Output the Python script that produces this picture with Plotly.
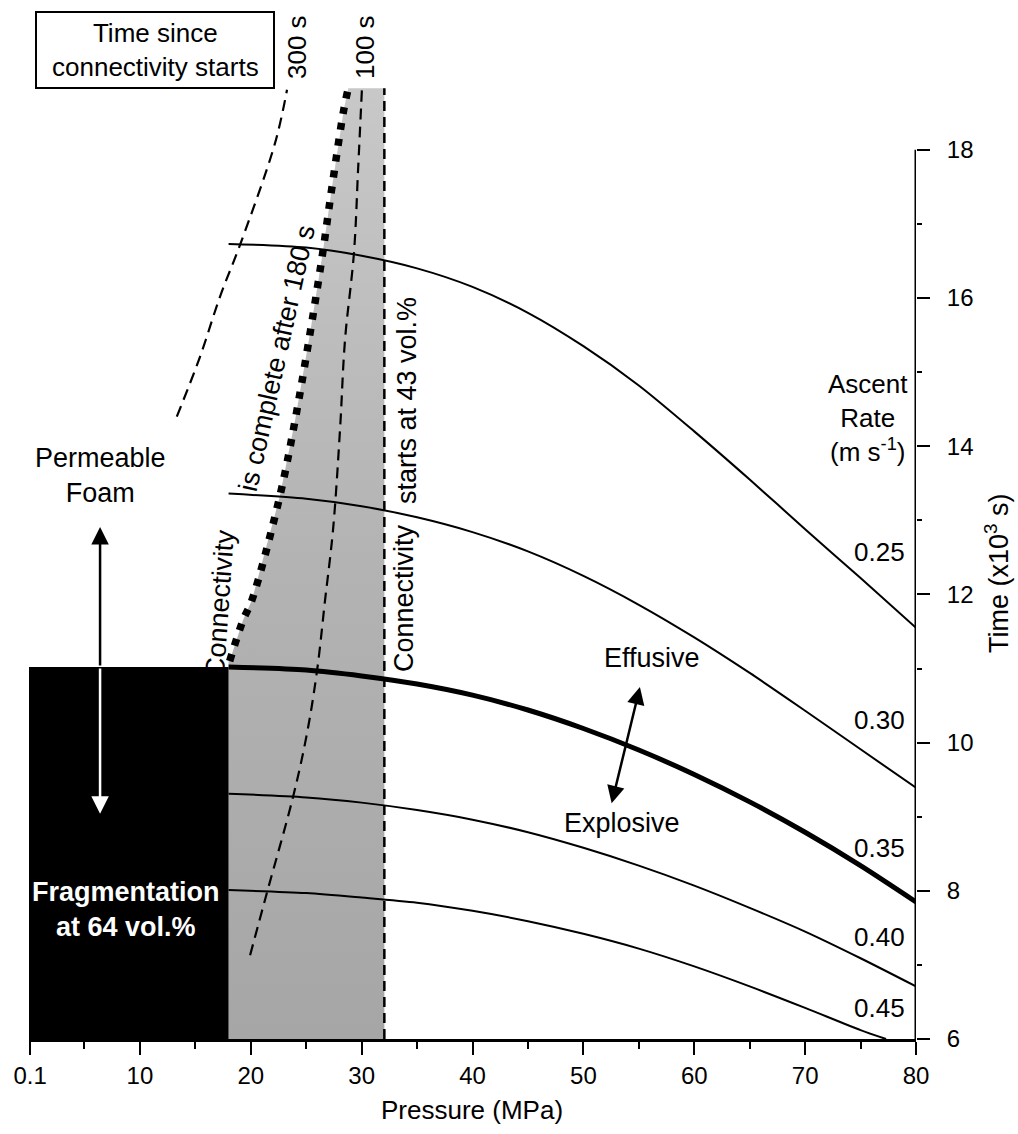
import plotly.graph_objects as go

# ---------------- data ----------------
pressure_ticks = [0.1, 10, 20, 30, 40, 50, 60, 70, 80]
pressure_tick_text = ["0.1", "10", "20", "30", "40", "50", "60", "70", "80"]
pressure_minor = [5, 15, 25, 35, 45, 55, 65, 75]
time_ticks = [6, 8, 10, 12, 14, 16, 18]
time_minor = [7, 9, 11, 13, 15, 17]

# ascent-rate curves: pressure (MPa) vs time (x10^3 s)
P_025 = [18, 25, 30, 35, 40, 45, 50, 55, 60, 65, 70, 75, 80]
t_025 = [16.73, 16.68, 16.57, 16.40, 16.15, 15.80, 15.35, 14.82, 14.20, 13.55, 12.88, 12.22, 11.55]
P_030 = [18, 25, 30, 35, 40, 45, 50, 55, 60, 65, 70, 75, 80]
t_030 = [13.36, 13.29, 13.19, 13.04, 12.84, 12.58, 12.25, 11.86, 11.42, 10.94, 10.43, 9.91, 9.39]
P_035 = [18, 25, 30, 35, 40, 45, 50, 55, 60, 65, 70, 75, 80]
t_035 = [11.02, 10.98, 10.90, 10.79, 10.64, 10.44, 10.19, 9.90, 9.57, 9.20, 8.79, 8.34, 7.85]
P_040 = [18, 25, 30, 35, 40, 45, 50, 55, 60, 65, 70, 75, 80]
t_040 = [9.31, 9.26, 9.19, 9.09, 8.96, 8.79, 8.58, 8.34, 8.07, 7.77, 7.45, 7.09, 6.71]
P_045 = [18, 25, 30, 35, 40, 45, 50, 55, 60, 65, 70, 75, 77.3]
t_045 = [8.01, 7.97, 7.91, 7.84, 7.73, 7.59, 7.42, 7.22, 6.98, 6.71, 6.42, 6.12, 6.0]
rate_labels = ["0.25", "0.30", "0.35", "0.40", "0.45"]

# fragmentation region (black)
frag_P = [0, 18]
frag_t = [6, 11.02]

# connectivity region
conn_start_P = 32.05
conn_top_t = 18.83
complete_P = [18.1, 19.3, 20.1, 22.6, 24.0, 25.4, 26.5, 27.3, 28.4, 28.8]
complete_t = [11.1, 11.65, 11.92, 13.31, 14.35, 15.57, 16.62, 17.47, 18.55, 18.83]

# time since connectivity starts
line100_P = [19.94, 21.47, 23.82, 25.08, 25.98, 26.70, 27.42, 28.05, 28.50, 29.31, 29.68, 30.03]
line100_t = [7.13, 7.98, 9.27, 10.13, 10.97, 11.92, 12.87, 14.22, 15.43, 16.61, 17.73, 18.83]
line300_P = [13.33, 15.43, 17.23, 19.04, 22.19, 23.27]
line300_t = [14.40, 15.21, 16.02, 16.72, 18.09, 18.81]

# ---------------- layout helpers ----------------
W, H = 1018, 1134
L, R, T, B = 29, 102, 0, 95
PW, PH = W - L - R, H - T - B
X0, X1 = 0, 80
Y0 = 6
Y1 = 6 + PH / 74.1

def px(x):
    return (x - L) / PW

def py(y):
    return (H - B - y) / PH

FONT = "Liberation Sans, Arial, sans-serif"

fig = go.Figure()

# gray connectivity region
gx = [18, 18] + complete_P + [conn_start_P, conn_start_P, 18]
gy = [Y0, complete_t[0]] + complete_t + [conn_top_t, Y0, Y0]
fig.add_trace(go.Scatter(
    x=gx, y=gy, mode="lines", fill="toself",
    fillgradient=dict(type="vertical",
                      colorscale=[[0, "#a6a6a6"], [0.5, "#b3b3b3"], [1, "#c8c8c8"]]),
    line=dict(width=0), hoverinfo="skip", showlegend=False))

# black fragmentation block
fig.add_trace(go.Scatter(
    x=[frag_P[0], frag_P[1], frag_P[1], frag_P[0], frag_P[0]],
    y=[frag_t[0], frag_t[0], frag_t[1], frag_t[1], frag_t[0]],
    mode="lines", fill="toself", fillcolor="black",
    line=dict(width=0, color="black"), hoverinfo="skip", showlegend=False))

# connectivity-start dashed boundary
fig.add_trace(go.Scatter(
    x=[conn_start_P, conn_start_P], y=[Y0, conn_top_t], mode="lines",
    line=dict(color="black", width=2.5, dash="10px,6px"), showlegend=False))

# time-since lines
fig.add_trace(go.Scatter(
    x=line100_P, y=line100_t, mode="lines", line_shape="spline",
    line=dict(color="black", width=2.2, dash="11px,7px"), showlegend=False))
fig.add_trace(go.Scatter(
    x=line300_P, y=line300_t, mode="lines", line_shape="spline",
    line=dict(color="black", width=2.2, dash="11px,7px"), showlegend=False))

# connectivity complete (thick dotted)
fig.add_trace(go.Scatter(
    x=complete_P, y=complete_t, mode="lines", line_shape="spline",
    line=dict(color="black", width=7.5, dash="7px,9px"), showlegend=False))

# ascent-rate curves
for P, t, w in [(P_025, t_025, 2), (P_030, t_030, 2), (P_035, t_035, 5),
                (P_040, t_040, 2), (P_045, t_045, 2)]:
    fig.add_trace(go.Scatter(x=P, y=t, mode="lines", line_shape="spline",
                             line=dict(color="black", width=w, smoothing=0.8),
                             showlegend=False))

# right axis line (6 to 18 only)
fig.add_shape(type="line", xref="x", yref="y", x0=X1, x1=X1, y0=6, y1=18,
              line=dict(color="black", width=3))

ann = []

def text(x, y, s, size=26, angle=0, color="black", bold=False):
    if bold:
        s = "<b>" + s + "</b>"
    ann.append(dict(x=px(x), y=py(y), xref="paper", yref="paper", text=s,
                    showarrow=False, textangle=angle, xanchor="center", yanchor="middle",
                    font=dict(family=FONT, size=size, color=color)))

text(155, 50, "Time since<br>connectivity starts", 26)
text(297, 47, "300 s", 26, -90)
text(365, 47, "100 s", 26, -90)
text(100, 475, "Permeable<br>Foam", 27)
text(220, 603, "Connectivity", 27, -86)
text(277, 358, "is complete after 180 s", 27, -77.5)
text(404, 598, "Connectivity", 27, -90)
text(407, 401, "starts at 43 vol.%", 27, -90)
text(652, 658, "Effusive", 27)
text(622, 823, "Explosive", 27)
text(868, 418, "Ascent<br>Rate<br>(m s<sup>-1</sup>)", 26)
for lab, yy in zip(rate_labels, [552, 720, 848, 937, 1008]):
    text(879, yy, lab, 26)
text(126, 909, "Fragmentation<br>at 64 vol.%", 27, 0, "white", True)
text(997, 573, "Time (x10<sup>3</sup> s)", 27, -90)
text(472, 1110, "Pressure (MPa)", 26)

# arrows
def arrow(xt, yt, xs, ys, color="black"):
    ann.append(dict(x=xt, y=yt, ax=xs, ay=ys, xref="x", yref="y", axref="x", ayref="y",
                    text="", showarrow=True, arrowhead=2, arrowsize=1.4, arrowwidth=2.5,
                    arrowcolor=color))

arrow(6.41, 12.91, 6.41, frag_t[1])
arrow(6.41, 9.04, 6.41, frag_t[1], "white")
arrow(55.1, 10.75, 53.83, 9.965)
arrow(52.55, 9.18, 53.83, 9.965)

# box around "Time since..."
fig.add_shape(type="rect", xref="paper", yref="paper",
              x0=px(36), x1=px(274), y0=py(88), y1=py(12),
              line=dict(color="black", width=2), fillcolor="rgba(0,0,0,0)")

fig.update_layout(
    width=W, height=H, margin=dict(l=L, r=R, t=T, b=B, pad=0),
    plot_bgcolor="white", paper_bgcolor="white",
    annotations=ann, showlegend=False,
    font=dict(family=FONT, color="black"),
    xaxis=dict(range=[X0, X1], tickvals=pressure_ticks, ticktext=pressure_tick_text,
               ticks="outside", ticklen=13, tickwidth=2, tickcolor="black",
               showline=True, linewidth=3, linecolor="black", showgrid=False,
               zeroline=False, tickfont=dict(size=24, family=FONT),
               minor=dict(tickvals=pressure_minor, ticks="outside", ticklen=7,
                          tickwidth=2, tickcolor="black")),
    yaxis=dict(range=[Y0, Y1], side="right", tickvals=time_ticks,
               ticks="outside", ticklen=13, tickwidth=2, tickcolor="black",
               showline=False, showgrid=False, zeroline=False,
               ticklabelstandoff=12,
               tickfont=dict(size=24, family=FONT),
               minor=dict(tickvals=time_minor, ticks="outside", ticklen=5,
                          tickwidth=2, tickcolor="black")),
)

fig.write_html("out.html")
